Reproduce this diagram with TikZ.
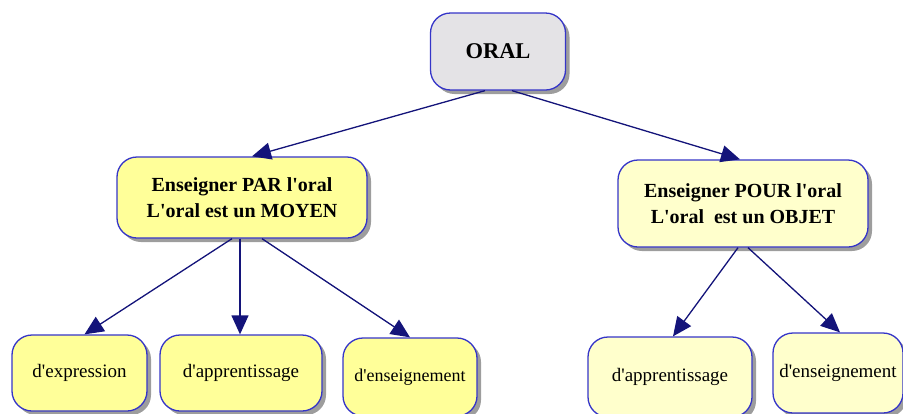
\documentclass[tikz,border=0pt]{standalone}
\usepackage{fontspec}
\setmainfont{Liberation Serif}
\usetikzlibrary{arrows.meta,shadows}
\definecolor{bordblue}{HTML}{3535C8}
\definecolor{arrnavy}{HTML}{14147A}
\definecolor{oralgray}{HTML}{E4E3E6}
\definecolor{yelA}{HTML}{FFFF99}
\definecolor{yelB}{HTML}{FFFFCC}
\newcommand{\sq}{\textquotesingle}
\tikzset{
  box/.style={draw=bordblue, line width=1.3pt, rounded corners=20pt, align=center,
    text=black, inner sep=0pt,
    drop shadow={shadow xshift=4pt, shadow yshift=-4pt, fill=black!55, opacity=0.7}},
  arr/.style={draw=arrnavy, line width=1.3pt, -{Triangle[length=19pt,width=17pt]}, fill=arrnavy},
  midfont/.style={font=\fontsize{20}{26}\selectfont\bfseries},
  botfont/.style={font=\fontsize{19}{23}\selectfont},
}
\begin{document}
\begin{tikzpicture}[x=1pt,y=-1pt]
\useasboundingbox (0,0) rectangle (903,413);
\clip (0,0) rectangle (903,413);
\node[box, fill=oralgray, minimum width=135pt, minimum height=77pt,
      font=\fontsize{22.5}{26}\selectfont\bfseries] (oral) at (498,51.5) {ORAL};
\node[box, fill=yelA, minimum width=250pt, minimum height=81pt, midfont] (mg) at (242,197.5)
  {Enseigner PAR l\sq oral\\L\sq oral est un MOYEN};
\node[box, fill=yelB, minimum width=250pt, minimum height=87pt, midfont] (md) at (743,203.5)
  {Enseigner POUR l\sq oral\\L\sq oral\ \ est un OBJET};
\node[box, fill=yelA, minimum width=135pt, minimum height=76pt, botfont] (b1) at (79.5,373) {d\sq expression};
\node[box, fill=yelA, minimum width=162pt, minimum height=76pt, botfont] (b2) at (241,373) {d\sq apprentissage};
\node[box, fill=yelA, minimum width=134pt, minimum height=78pt, font=\fontsize{18}{22}\selectfont] (b3) at (410,377) {d\sq enseignement};
\node[box, fill=yelB, minimum width=164pt, minimum height=80pt, botfont] (b4) at (670,377) {d\sq apprentissage};
\node[box, fill=yelB, minimum width=130pt, minimum height=80pt, botfont] (b5) at (838,373) {d\sq enseignement};
\draw[arr] ([xshift=-13pt]oral.south) -- ([xshift=10pt]mg.north);
\draw[arr] ([xshift=14pt]oral.south) -- ([xshift=-3pt]md.north);
\draw[arr] ([xshift=-10pt]mg.south) -- ([xshift=5pt]b1.north);
\draw[arr] ([xshift=-2pt]mg.south) -- ([xshift=-1pt]b2.north);
\draw[arr] ([xshift=20pt]mg.south) -- (b3.north);
\draw[arr] ([xshift=-5pt]md.south) -- ([xshift=3pt]b4.north);
\draw[arr] ([xshift=5pt]md.south) -- ([xshift=2pt]b5.north);
\end{tikzpicture}
\end{document}
